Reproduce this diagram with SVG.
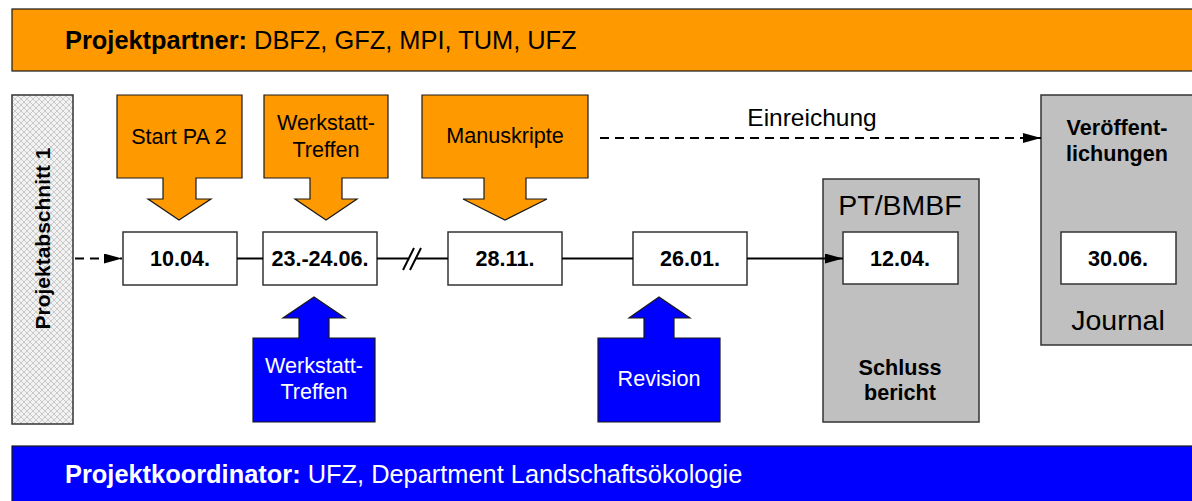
<svg xmlns="http://www.w3.org/2000/svg" width="1192" height="501" viewBox="0 0 1192 501">
<defs>
<style>
text{font-family:"Liberation Sans",Arial,sans-serif;}
.b{font-weight:bold;}
.date{font-size:21.6px;font-weight:bold;text-anchor:middle;fill:#000;}
.lbl{font-size:21.6px;text-anchor:middle;fill:#000;}
.wlbl{font-size:21.6px;text-anchor:middle;fill:#fff;}
.or{fill:#FF9900;stroke:#1a1a1a;stroke-width:1.2;}
.bl{fill:#0000FF;stroke:#1a1a1a;stroke-width:1.2;}
.gr{fill:#C0C0C0;stroke:#333;stroke-width:1.5;}
.box{fill:#fff;stroke:#333;stroke-width:1.5;}
.ln{stroke:#000;stroke-width:2;fill:none;}
.dash{stroke:#000;stroke-width:2;fill:none;stroke-dasharray:9 6;}
</style>
<pattern id="hatch" width="6" height="6" patternUnits="userSpaceOnUse">
<rect width="6" height="6" fill="#f2f2f2"/>
<path d="M0,0 L6,6 M6,0 L0,6" stroke="#c4c4c4" stroke-width="0.9"/>
</pattern>
<marker id="ah" markerWidth="18" markerHeight="10" refX="18" refY="5" orient="auto" markerUnits="userSpaceOnUse">
<path d="M0,0 L18,5 L0,10 Z" fill="#000"/>
</marker>
</defs>

<g id="partner-bar">
<rect x="12" y="9" width="1190" height="62" class="or" stroke-width="1.5"/>
<text x="65" y="49" font-size="25.4" fill="#000"><tspan class="b">Projektpartner:</tspan> DBFZ, GFZ, MPI, TUM, UFZ</text>
</g>

<g id="koordinator-bar">
<rect x="12" y="446" width="1190" height="62" class="bl" stroke-width="1.5"/>
<text x="65" y="483" font-size="25.4" fill="#fff"><tspan class="b">Projektkoordinator:</tspan> UFZ, Department Landschaftsökologie</text>
</g>

<g id="projektabschnitt">
<rect x="12" y="95" width="61" height="329" fill="url(#hatch)" stroke="#333" stroke-width="1.5"/>
<text transform="translate(50,238.5) rotate(-90)" text-anchor="middle" font-size="21" class="b" fill="#000">Projektabschnitt 1</text>
</g>

<g id="start-pa2">
<path class="or" d="M117,95 H242 V178 H196 V199 H211 L179,220 L148,199 H163 V178 H117 Z"/>
<text x="179" y="144" class="lbl">Start PA 2</text>
</g>

<g id="werkstatt-oben">
<path class="or" d="M264,95 H388 V178 H342 V199 H357 L326,220 L295,199 H310 V178 H264 Z"/>
<text x="326" y="130" class="lbl">Werkstatt-</text>
<text x="326" y="157" class="lbl">Treffen</text>
</g>

<g id="manuskripte">
<path class="or" d="M422,95 H588 V178 H526 V199 H547 L505,220 L463,199 H484 V178 H422 Z"/>
<text x="505" y="143" class="lbl">Manuskripte</text>
</g>

<g id="d1004">
<rect x="123" y="232" width="114" height="53" class="box"/>
<text x="180" y="266" class="date">10.04.</text>
</g>

<g id="d2324">
<rect x="263" y="232" width="114" height="53" class="box"/>
<text x="320" y="266" class="date">23.-24.06.</text>
</g>

<g id="d2811">
<rect x="448" y="232" width="114" height="53" class="box"/>
<text x="505" y="266" class="date">28.11.</text>
</g>

<g id="d2601">
<rect x="633" y="232" width="114" height="53" class="box"/>
<text x="690" y="266" class="date">26.01.</text>
</g>

<g id="werkstatt-unten">
<path class="bl" d="M253,338 H299 V318 H283 L314,297 L345,318 H329 V338 H375 V422 H253 Z"/>
<text x="314" y="373" class="wlbl">Werkstatt-</text>
<text x="314" y="399" class="wlbl">Treffen</text>
</g>

<g id="revision">
<path class="bl" d="M598,338 H644 V318 H629 L659,297 L690,318 H674 V338 H720 V422 H598 Z"/>
<text x="659" y="386" class="wlbl">Revision</text>
</g>

<g id="pt-bmbf">
<rect x="823" y="179" width="156" height="243" class="gr"/>
<text x="900" y="215" font-size="28.5" text-anchor="middle" fill="#000">PT/BMBF</text>
<rect x="843" y="232" width="115" height="52" class="box"/>
<text x="900" y="266" class="date">12.04.</text>
<text x="900" y="375" class="date">Schluss</text>
<text x="900" y="400" class="date">bericht</text>
</g>

<g id="veroeffentlichungen">
<rect x="1041" y="95" width="160" height="250" class="gr"/>
<text x="1117" y="135" class="date">Veröffent-</text>
<text x="1117" y="161" class="date">lichungen</text>
<rect x="1061" y="232" width="115" height="52" class="box"/>
<text x="1118" y="266" class="date">30.06.</text>
<text x="1118" y="330" font-size="28.5" text-anchor="middle" fill="#000">Journal</text>
</g>

<g id="connectors">
<line x1="75" y1="258.5" x2="122" y2="258.5" class="dash" marker-end="url(#ah)"/>
<line x1="237" y1="258.5" x2="263" y2="258.5" class="ln"/>
<line x1="377" y1="258.5" x2="408" y2="258.5" class="ln"/>
<line x1="415" y1="258.5" x2="448" y2="258.5" class="ln"/>
<line x1="403" y1="270" x2="414" y2="248" class="ln"/>
<line x1="410" y1="270" x2="421" y2="248" class="ln"/>
<line x1="562" y1="258.5" x2="633" y2="258.5" class="ln"/>
<line x1="747" y1="258.5" x2="843" y2="258.5" class="ln" marker-end="url(#ah)"/>
<line x1="600" y1="138" x2="1041" y2="138" class="dash" marker-end="url(#ah)"/>
<text x="812" y="126" font-size="24.5" text-anchor="middle" fill="#000">Einreichung</text>
</g>
</svg>
